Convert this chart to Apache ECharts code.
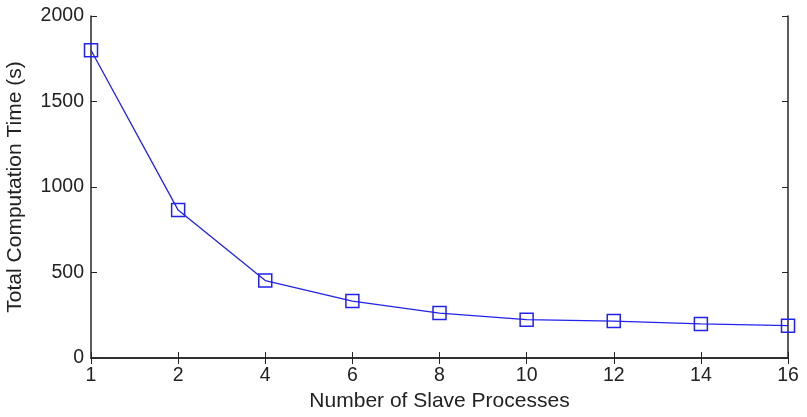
<!DOCTYPE html>
<html>
<head>
<meta charset="utf-8">
<script src="https://cdn.jsdelivr.net/npm/echarts@6/dist/echarts.min.js"></script>
<style>
  html, body { margin: 0; padding: 0; background: #fff; }
  #chart { width: 807px; height: 417px; }
</style>
</head>
<body>
<div id="chart"></div>
<script>
const processes = ["1", "2", "4", "6", "8", "10", "12", "14", "16"];
const totalTime = [1800, 865, 453, 333, 263, 224, 216, 199, 189];

const chart = echarts.init(document.getElementById("chart"));

const font = "Liberation Sans, Arial, sans-serif";
const axisColor = "#262626";
const textColor = "#222";

const option = {
  animation: false,
  grid: {
    left: 91,
    right: 19,
    top: 16,
    bottom: 59,
    containLabel: false,
    outerBoundsMode: "none",
  },
  xAxis: [
    {
      type: "category",
      data: processes,
      boundaryGap: false,
      name: "Number of Slave Processes",
      nameLocation: "middle",
      nameGap: 31,
      nameTextStyle: { fontFamily: font, fontSize: 21, color: textColor },
      axisLine: { lineStyle: { color: axisColor, width: 1.5 } },
      axisTick: { inside: true, length: 6, lineStyle: { color: axisColor } },
      axisLabel: { fontFamily: font, fontSize: 19.5, color: textColor, margin: 8 },
      splitLine: { show: false },
    },
    {
      type: "category",
      data: processes,
      boundaryGap: false,
      position: "top",
      axisLine: { lineStyle: { color: axisColor, width: 1.5 } },
      axisTick: { inside: true, length: 6, lineStyle: { color: axisColor } },
      axisLabel: { show: false },
      splitLine: { show: false },
    },
  ],
  yAxis: [
    {
      type: "value",
      min: 0,
      max: 2000,
      interval: 500,
      name: "Total Computation Time (s)",
      nameLocation: "middle",
      nameGap: 65,
      nameTextStyle: { fontFamily: font, fontSize: 21, color: textColor },
      axisLine: { show: true, lineStyle: { color: axisColor, width: 1.5 } },
      axisTick: { show: true, inside: true, length: 6, lineStyle: { color: axisColor } },
      axisLabel: {
        fontFamily: font,
        fontSize: 19.5,
        color: textColor,
        margin: 7,
        formatter: (v) => String(v),
      },
      splitLine: { show: false },
    },
    {
      type: "value",
      min: 0,
      max: 2000,
      interval: 500,
      position: "right",
      axisLine: { show: true, lineStyle: { color: axisColor, width: 1.5 } },
      axisTick: { show: true, inside: true, length: 6, lineStyle: { color: axisColor } },
      axisLabel: { show: false },
      splitLine: { show: false },
    },
  ],
  series: [
    {
      type: "line",
      data: totalTime,
      xAxisIndex: 0,
      yAxisIndex: 0,
      symbol: "rect",
      symbolSize: 13,
      lineStyle: { color: "#2222ee", width: 1.3 },
      itemStyle: { color: "transparent", borderColor: "#2222ee", borderWidth: 1.5 },
    },
  ],
};

chart.setOption(option);
</script>
</body>
</html>
